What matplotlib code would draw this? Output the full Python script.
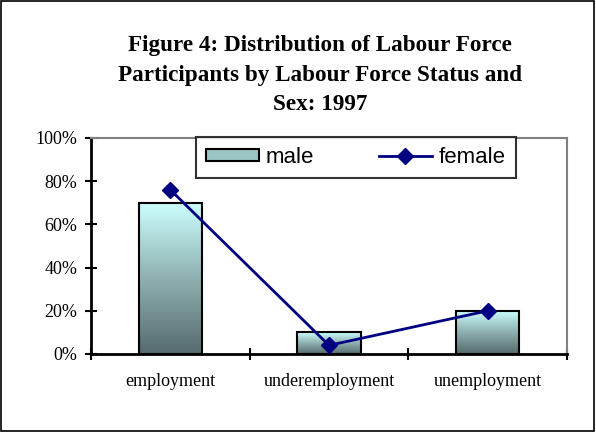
import numpy as np
import matplotlib.pyplot as plt
from matplotlib.patches import Rectangle
from matplotlib.ticker import FuncFormatter
from matplotlib.colors import LinearSegmentedColormap

categories = ["employment", "underemployment", "unemployment"]
male = [0.70, 0.10, 0.20]
female = [0.76, 0.04, 0.20]

fig = plt.figure(figsize=(5.96, 4.32), dpi=100)
ax = fig.add_axes([91/596, 1-354/432, 476/596, 216/432])

# outer frame
fig.patches.append(Rectangle((0.002, 0.003), 0.995, 0.994, transform=fig.transFigure,
                             fill=False, edgecolor='black', linewidth=1.2))

x = np.arange(len(categories))
w = 0.4
grad = np.linspace(0, 1, 256).reshape(-1, 1)
cmap = LinearSegmentedColormap.from_list("g", ["#566b6b", "#8fb0b0", "#ccffff"])
bars = ax.bar(x, male, w, facecolor='none', edgecolor='black', linewidth=1.5, zorder=3, label='male')
for b in bars:
    bx, by = b.get_x(), b.get_y()
    bw, bh = b.get_width(), b.get_height()
    ax.imshow(grad, cmap=cmap, aspect='auto', origin='lower',
              extent=[bx, bx + bw, by, by + bh], zorder=2)
ax.plot(x, female, color='#000080', marker='D', markersize=8, linewidth=2, zorder=4, label='female')

ax.set_xlim(-0.5, 2.5)
ax.set_ylim(0, 1)
ax.set_yticks(np.arange(0, 1.01, 0.2))
ax.yaxis.set_major_formatter(FuncFormatter(lambda v, p: f"{v*100:.0f}%"))
ax.set_xticks(x)
ax.set_xticklabels(categories, fontfamily='Liberation Serif', fontsize=13)
ax.set_xticks([-0.5, 0.5, 1.5, 2.5], minor=True)
ax.tick_params(axis='x', which='major', length=0, pad=14)
ax.tick_params(axis='x', which='minor', direction='inout', length=8, width=1.5)
ax.tick_params(axis='y', direction='inout', length=8, width=1.5, labelsize=13, pad=6)
for lab in ax.get_yticklabels():
    lab.set_fontfamily('Liberation Serif')
ax.spines['left'].set_linewidth(2)
ax.spines['bottom'].set_linewidth(2)
ax.spines['top'].set_color('#808080')
ax.spines['right'].set_color('#808080')
ax.spines['top'].set_linewidth(1.5)
ax.spines['right'].set_linewidth(1.5)

handles = [Rectangle((0, 0), 1, 1, facecolor='#9cc4c4', edgecolor='black', linewidth=1.5),
           ax.lines[0]]
leg = ax.legend(handles, ['male', 'female'], loc='upper left', bbox_to_anchor=(0.22, 1.005),
                borderaxespad=0, ncol=2, frameon=True, fancybox=False, edgecolor='black',
                prop={'family': 'Liberation Sans', 'size': 16}, columnspacing=2.9,
                handlelength=2.4, handleheight=0.5, handletextpad=0.3, borderpad=0.45)
leg.get_frame().set_linewidth(1.5)
leg.set_zorder(5)

fig.text(0.537, 1-75/432, "Figure 4: Distribution of Labour Force\nParticipants by Labour Force Status and\nSex: 1997",
         ha='center', va='center', fontfamily='Liberation Serif', fontweight='bold', fontsize=16.7,
         linespacing=1.5)

fig.savefig("out.png", dpi=100)
